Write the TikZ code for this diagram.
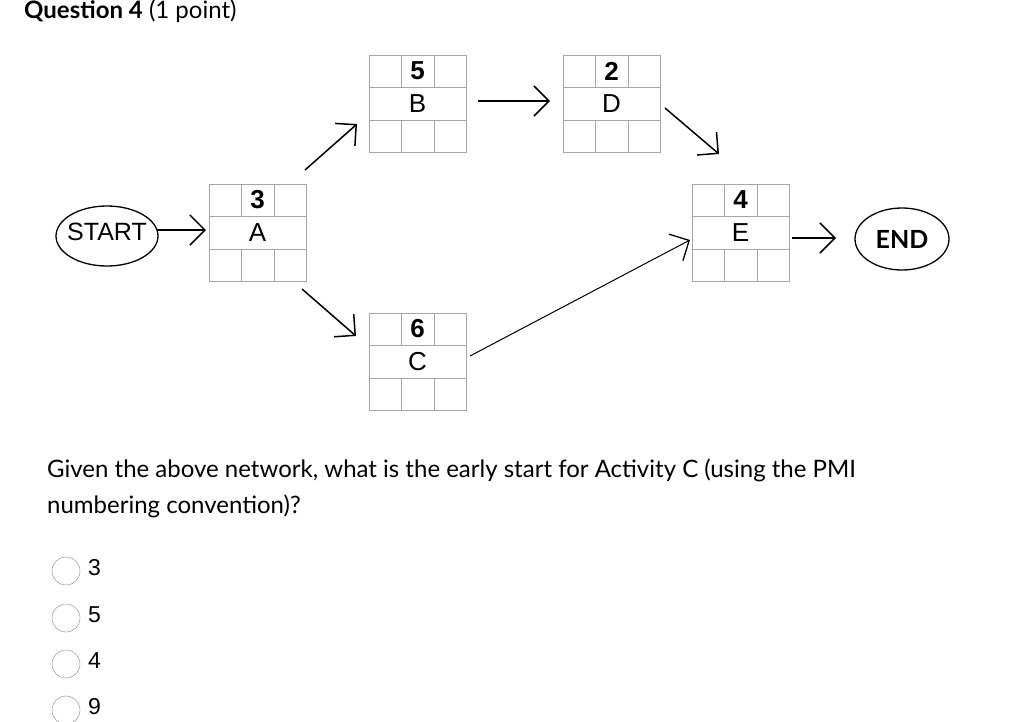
\documentclass[tikz,border=0pt]{standalone}
\usepackage{fontspec}
\setmainfont{Lato}
\newfontfamily\arialf{Liberation Sans}
\usetikzlibrary{arrows.meta,shapes.geometric}
\tikzset{
 arr/.style={line width=1.5pt,-{Straight Barb[length=15pt,width=30pt,line width=1.5pt]}},
 lbl/.style={font=\arialf\fontsize{26}{28}\selectfont,inner sep=0pt},
 ov/.style={font=\arialf\fontsize{25}{28}\selectfont,inner sep=0pt},
 ring/.style={line width=1.3pt},
 radio/.style={circle,draw=gray,minimum size=28pt,inner sep=0pt},
 opt/.style={font=\arialf\fontsize{23}{26}\selectfont,anchor=west,inner sep=0pt}
}
\newcommand{\actbox}[4]{%
 \begin{scope}[shift={(#1,#2)}]
 \draw[gray!70,line width=0.8pt] (0,0) rectangle (97,97);
 \draw[gray!70,line width=0.8pt] (0,32) -- (97,32) (0,65)--(97,65);
 \draw[gray!70,line width=0.8pt] (32,0)--(32,32) (65,0)--(65,32) (32,65)--(32,97) (65,65)--(65,97);
 \node[lbl,font=\arialf\bfseries\fontsize{26}{28}\selectfont] at (48.5,16) {#3};
 \node[lbl] at (48.5,49) {#4};
 \end{scope}}
\begin{document}
\begin{tikzpicture}[x=1pt,y=-1pt]
\useasboundingbox (0,0) rectangle (1036,721);
\node[anchor=west,inner sep=0pt,font=\fontsize{24}{28}\selectfont] at (24,11) {\textbf{Question 4} (1 point)};
\actbox{209}{184}{3}{A}
\actbox{369}{55}{5}{B}
\actbox{563}{55}{2}{D}
\actbox{692}{184}{4}{E}
\actbox{369}{313}{6}{C}
\node[ov] (start) at (107,232) {START};
\draw[ring] (107,236) ellipse [x radius=51, y radius=30];
\node[ov,font=\bfseries\fontsize{25}{28}\selectfont] (end) at (902,239) {END};
\draw[ring] (end.center) ellipse [x radius=47, y radius=31];
\coordinate (s1) at (157,230); \coordinate (a1) at (206,230);
\coordinate (a2) at (305,170); \coordinate (b1) at (357,124);
\coordinate (b2) at (478,101); \coordinate (d1) at (550,101);
\coordinate (d2) at (665,108); \coordinate (e1) at (719,154);
\coordinate (a3) at (302,289); \coordinate (c1) at (356,336);
\coordinate (c2) at (470,356); \coordinate (e2) at (690,240);
\coordinate (e3) at (792,238); \coordinate (n1) at (836,238);
\draw[arr] (s1)--(a1);
\draw[arr] (a2)--(b1);
\draw[arr] (b2)--(d1);
\draw[arr] (d2)--(e1);
\draw[arr] (a3)--(c1);
\draw[line width=1pt,-{Straight Barb[length=15pt,width=30pt,line width=1.3pt]}] (c2)--(e2);
\draw[arr] (e3)--(n1);
\node[anchor=west,align=left,inner sep=0pt,font=\fontsize{24}{36}\selectfont] at (47,488) {Given the above network, what is the early start for Activity C (using the PMI\\numbering convention)?};
\foreach \y/\t [count=\i] in {571/3,618/5,664/4,710/9}{
 \node[radio] (r\i) at (66,\y) {};
 \node[opt] (o\i) at (88,\y-3) {\t};
}
\end{tikzpicture}
\end{document}
